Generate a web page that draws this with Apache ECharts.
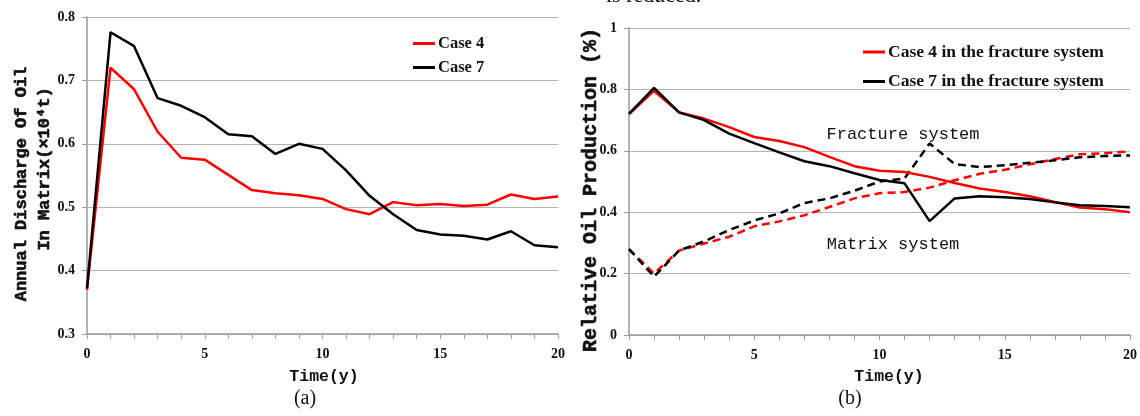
<!DOCTYPE html>
<html>
<head>
<meta charset="utf-8">
<script src="https://cdn.jsdelivr.net/npm/echarts@6/dist/echarts.min.js"></script>
<style>
  html, body { margin: 0; padding: 0; background: #fff; }
  #chart { width: 1140px; height: 416px; }
</style>
</head>
<body>
<div id="chart"></div>
<script>
// Simulation years
const years = [0,1,2,3,4,5,6,7,8,9,10,11,12,13,14,15,16,17,18,19,20];

// (a) annual discharge of oil in matrix (10^4 t)
const case4Matrix = [0.37,0.72,0.686,0.619,0.578,0.575,0.551,0.527,0.522,0.519,0.513,0.497,0.489,0.508,0.503,0.505,0.502,0.504,0.52,0.513,0.517];
const case7Matrix = [0.372,0.776,0.754,0.672,0.66,0.642,0.615,0.612,0.584,0.6,0.592,0.558,0.518,0.489,0.464,0.457,0.455,0.449,0.462,0.44,0.437];

// (b) relative oil production, fracture system (solid) and matrix system (dashed)
const case4Fracture = [0.72,0.795,0.725,0.705,0.677,0.645,0.632,0.612,0.58,0.55,0.535,0.531,0.515,0.495,0.477,0.466,0.452,0.433,0.415,0.41,0.40];
const case7Fracture = [0.72,0.805,0.725,0.70,0.656,0.625,0.595,0.566,0.55,0.527,0.505,0.494,0.371,0.445,0.452,0.449,0.443,0.432,0.423,0.42,0.416];
const case4MatrixRel = [0.28,0.20,0.275,0.298,0.32,0.354,0.37,0.39,0.417,0.445,0.462,0.466,0.48,0.504,0.525,0.538,0.556,0.573,0.589,0.592,0.598];
const case7MatrixRel = [0.28,0.19,0.275,0.305,0.342,0.373,0.396,0.43,0.445,0.47,0.50,0.51,0.624,0.557,0.547,0.553,0.561,0.569,0.579,0.583,0.585];

const leftTicks = [0.3,0.4,0.5,0.6,0.7,0.8];
const rightTicks = [0,0.2,0.4,0.6,0.8,1];

const serif = '"Liberation Serif", "Times New Roman", serif';
const mono = '"Liberation Mono", "DejaVu Sans Mono", monospace';
const gridColor = '#b4b4b4';
const axisColor = '#9a9a9a';

const pairs = arr => years.map((x, i) => [x, arr[i]]);

function xAxisFor(gridIndex) {
  return {
    type: 'value', gridIndex, min: 0, max: 20, interval: 1,
    axisLine: { show: true, lineStyle: { color: axisColor, width: 1.5 } },
    axisTick: { show: true, length: 5, inside: false, lineStyle: { color: axisColor } },
    splitLine: { show: false },
    axisLabel: {
      margin: 13, fontFamily: serif, fontWeight: 'bold', fontSize: 14, color: '#111',
      formatter: v => (v % 5 === 0 ? String(v) : '')
    }
  };
}

function yAxisFor(gridIndex, min, max, interval, ticks) {
  return {
    type: 'value', gridIndex, min, max, interval,
    axisLine: { show: true, lineStyle: { color: axisColor, width: 1.5 } },
    axisTick: { show: true, length: 5, lineStyle: { color: axisColor } },
    splitLine: { show: true, lineStyle: { color: gridColor, width: 1.2 } },
    axisLabel: {
      margin: 12, fontFamily: serif, fontWeight: 'bold', fontSize: 14, color: '#111',
      formatter: v => {
        const t = ticks.find(k => Math.abs(k - v) < 1e-9);
        return t === undefined ? '' : String(t);
      }
    }
  };
}

function lineSeries(name, data, color, idx, dashed) {
  return {
    type: 'line', name, data: pairs(data),
    xAxisIndex: idx, yAxisIndex: idx,
    symbol: 'none', smooth: false,
    lineStyle: { color, width: 2.5, type: dashed ? [8, 5] : 'solid' },
    itemStyle: { color },
    z: dashed ? 3 : 4
  };
}

// heavy axis-title text
function titleStyle(text, size) {
  return {
    text, font: 'bold ' + size + 'px ' + mono, fill: '#111',
    stroke: '#111', lineWidth: 0.6,
    align: 'center', verticalAlign: 'middle'
  };
}

// plain text centred on a point
function plainStyle(text, font) {
  return { text, font, fill: '#111', align: 'center', verticalAlign: 'middle' };
}

const chart = echarts.init(document.getElementById('chart'), null, { renderer: 'canvas' });

chart.setOption({
  animation: false,
  backgroundColor: '#ffffff',
  grid: [
    { left: 87, right: 582, top: 17, bottom: 82 },
    { left: 629, right: 4, top: 28, bottom: 81 }
  ],
  xAxis: [xAxisFor(0), xAxisFor(1)],
  yAxis: [
    yAxisFor(0, 0.3, 0.8, 0.1, leftTicks),
    yAxisFor(1, 0, 1, 0.2, rightTicks)
  ],
  legend: [
    {
      data: ['Case 4', 'Case 7'],
      orient: 'vertical', left: 408, top: 30,
      icon: 'rect', itemWidth: 22, itemHeight: 3, itemGap: 7,
      textStyle: { fontFamily: serif, fontWeight: 'bold', fontSize: 16.5, lineHeight: 17, color: '#111', padding: [0, 0, 0, -2] }
    },
    {
      data: ['Case 4 in the fracture system', 'Case 7 in the fracture system'],
      orient: 'vertical', left: 858, top: 38,
      icon: 'rect', itemWidth: 22, itemHeight: 3, itemGap: 11.5,
      textStyle: { fontFamily: serif, fontWeight: 'bold', fontSize: 17.5, lineHeight: 17.5, color: '#111', padding: [0, 0, 0, -2] }
    }
  ],
  series: [
    lineSeries('Case 4', case4Matrix, '#ff0000', 0, false),
    lineSeries('Case 7', case7Matrix, '#000000', 0, false),
    lineSeries('Case 4 in the matrix system', case4MatrixRel, '#ff0000', 1, true),
    lineSeries('Case 7 in the matrix system', case7MatrixRel, '#000000', 1, true),
    lineSeries('Case 4 in the fracture system', case4Fracture, '#ff0000', 1, false),
    lineSeries('Case 7 in the fracture system', case7Fracture, '#000000', 1, false)
  ],
  graphic: [
    // caption line from the running text above the figure
    { type: 'text', left: 606, top: -15, style: { text: 'is reduced.', font: '22px ' + serif, fill: '#111' } },
    // (a) axis titles
    { type: 'text', x: 22, y: 184, rotation: Math.PI / 2, style: titleStyle('Annual Discharge Of Oil', 17) },
    { type: 'text', x: 45, y: 169, rotation: Math.PI / 2, style: titleStyle('In Matrix(×10⁴t)', 17) },
    { type: 'text', x: 324, y: 377, style: plainStyle('Time(y)', 'bold 16.5px ' + mono) },
    { type: 'text', x: 305, y: 399, style: plainStyle('(a)', '20px ' + serif) },
    // (b) axis titles and region labels
    { type: 'text', x: 591, y: 190, rotation: Math.PI / 2, style: titleStyle('Relative Oil Production (%)', 20) },
    { type: 'text', x: 889, y: 377, style: plainStyle('Time(y)', 'bold 16.5px ' + mono) },
    { type: 'text', x: 850, y: 399, style: plainStyle('(b)', '20px ' + serif) },
    { type: 'text', x: 903, y: 134, style: plainStyle('Fracture system', '17px ' + mono) },
    { type: 'text', x: 893, y: 244, style: plainStyle('Matrix system', '17px ' + mono) }
  ]
});
</script>
</body>
</html>
